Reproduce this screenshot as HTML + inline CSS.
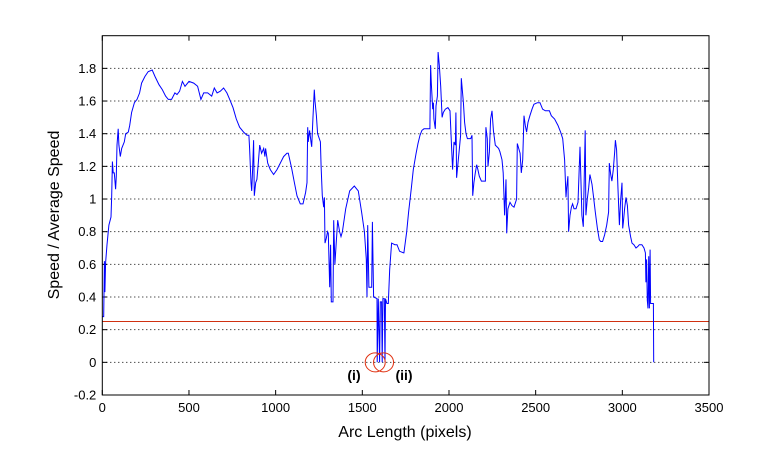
<!DOCTYPE html>
<html><head><meta charset="utf-8"><style>
body{margin:0;background:#fff;}
svg{display:block;font-family:"Liberation Sans",Arial,sans-serif;}
</style></head><body>
<svg id="chart" width="783" height="472" viewBox="0 0 783 472" xmlns="http://www.w3.org/2000/svg">
<rect width="783" height="472" fill="#fff"/>
<g id="grid"></g>
<g id="ticks"></g>
<line id="thresh" stroke="#d03010" stroke-width="1"/>
<path id="series" fill="none" stroke="#0000ff" stroke-width="1"/>
<g id="marks"></g>
<rect x="102.3" y="35.7" width="606.7" height="359.3" fill="none" stroke="#000" stroke-width="1"/>
<text x="405" y="437" font-size="16" text-anchor="middle">Arc Length (pixels)</text>
<text x="0" y="0" font-size="16" text-anchor="middle" transform="translate(59,215) rotate(-90)">Speed / Average Speed</text>
<text x="354" y="380" font-size="14" font-weight="bold" text-anchor="middle">(i)</text>
<text x="404" y="380" font-size="14" font-weight="bold" text-anchor="middle">(ii)</text>
</svg>
<script>
const xTicks=[0,500,1000,1500,2000,2500,3000,3500];
const yTicks=[-0.2,0,0.2,0.4,0.6,0.8,1,1.2,1.4,1.6,1.8];
const yTickLabels=["-0.2","0","0.2","0.4","0.6","0.8","1","1.2","1.4","1.6","1.8"];
const threshold=0.25;
const markedX=[1586,1634];
const arcLength=[0,8,12,15,19,27,38,50,54,58,63,69,77,81,85,92,96,104,112,127,135,150,158,169,185,200,215,227,246,265,288,304,327,346,365,381,400,419,431,446,462,477,500,527,550,569,585,608,631,646,662,681,700,719,735,754,773,792,815,835,846,850,858,862,867,873,877,885,892,900,908,919,931,938,942,954,969,988,1008,1027,1046,1065,1073,1092,1108,1123,1142,1158,1173,1181,1185,1188,1196,1204,1208,1215,1223,1227,1235,1242,1258,1262,1269,1277,1281,1285,1292,1300,1304,1312,1317,1321,1331,1335,1342,1350,1358,1369,1377,1385,1404,1427,1454,1477,1496,1512,1523,1527,1531,1538,1554,1558,1565,1585,1586,1592,1600,1604,1611,1615,1619,1627,1631,1634,1642,1650,1658,1669,1688,1700,1715,1738,1740,1756,1767,1783,1794,1810,1821,1833,1844,1856,1890,1894,1898,1906,1910,1913,1921,1925,1933,1937,1944,1952,1960,1967,1979,1994,2006,2013,2021,2029,2037,2040,2044,2052,2060,2067,2071,2075,2083,2090,2098,2106,2125,2133,2137,2144,2152,2160,2167,2175,2187,2210,2213,2221,2225,2233,2240,2248,2256,2267,2286,2294,2306,2313,2321,2329,2333,2340,2352,2363,2375,2390,2394,2402,2410,2417,2425,2433,2440,2448,2456,2467,2479,2490,2510,2525,2540,2556,2579,2590,2609,2629,2644,2656,2667,2675,2679,2686,2690,2698,2706,2713,2721,2733,2744,2756,2767,2775,2779,2786,2790,2798,2806,2813,2825,2833,2844,2856,2867,2875,2886,2898,2910,2921,2925,2933,2940,2948,2956,2960,2967,2971,2975,2983,2990,2998,3002,3006,3013,3021,3029,3036,3048,3056,3067,3079,3090,3098,3113,3125,3133,3136,3140,3144,3148,3152,3156,3160,3163,3179,3181];
const speed=[0.28,0.28,0.62,0.43,0.61,0.72,0.84,0.89,1.02,1.23,1.16,1.16,1.06,1.14,1.33,1.43,1.33,1.26,1.31,1.35,1.40,1.41,1.45,1.53,1.59,1.61,1.65,1.71,1.75,1.78,1.79,1.75,1.70,1.67,1.63,1.61,1.61,1.65,1.64,1.66,1.72,1.69,1.72,1.71,1.69,1.61,1.65,1.65,1.63,1.68,1.65,1.66,1.68,1.65,1.61,1.56,1.49,1.44,1.41,1.39,1.39,1.31,1.10,1.05,1.18,1.36,1.02,1.10,1.12,1.22,1.33,1.28,1.31,1.26,1.31,1.22,1.18,1.15,1.18,1.22,1.26,1.28,1.28,1.19,1.10,1.02,0.97,0.97,1.04,1.10,1.44,1.35,1.42,1.35,1.32,1.49,1.67,1.60,1.51,1.40,1.35,1.20,1.02,0.95,1.01,0.73,0.76,0.80,0.79,0.46,0.72,0.37,0.37,0.87,0.60,0.74,0.87,0.80,0.77,0.80,0.94,1.05,1.08,1.05,0.92,0.80,0.63,0.40,0.84,0.46,0.46,0.86,0.40,0.39,0,0.39,0,0.37,0.37,0,0.39,0.39,0,0.39,0.36,0.36,0.57,0.73,0.72,0.72,0.68,0.67,0.67,0.80,0.92,1.07,1.18,1.28,1.34,1.39,1.42,1.43,1.43,1.82,1.71,1.55,1.59,1.49,1.43,1.57,1.63,1.90,1.82,1.69,1.50,1.53,1.55,1.56,1.54,1.37,1.18,1.35,1.33,1.53,1.13,1.22,1.31,1.39,1.74,1.69,1.59,1.47,1.40,1.37,1.37,1.39,1.02,1.10,1.16,1.21,1.18,1.14,1.11,1.11,1.44,1.37,1.20,1.29,1.49,1.54,1.42,1.33,1.31,1.29,1.24,1.16,0.90,1.12,0.79,0.94,0.98,0.96,0.95,1.00,1.34,1.31,1.28,1.16,1.24,1.51,1.45,1.41,1.47,1.51,1.55,1.58,1.59,1.59,1.55,1.54,1.54,1.51,1.49,1.45,1.41,1.37,1.24,1.01,1.07,1.14,0.80,0.90,0.95,0.97,0.94,0.94,0.98,1.32,0.90,0.83,1.06,1.42,0.90,1.00,1.07,1.15,1.09,1.02,0.92,0.82,0.75,0.74,0.74,0.78,0.84,0.92,1.22,1.15,1.11,1.18,1.29,1.36,1.30,1.18,1.06,0.84,0.99,1.10,0.82,0.86,0.94,1.01,0.96,0.84,0.77,0.73,0.72,0.70,0.71,0.72,0.72,0.70,0.67,0.49,0.63,0.38,0.33,0.65,0.33,0.69,0.36,0.36,0];

const X0=102.3,X1=709,Y0=395,Y1=35.7,xmin=0,xmax=3500,ymin=-0.2,ymax=2.0;
const sx=v=>X0+(v-xmin)/(xmax-xmin)*(X1-X0);
const sy=v=>Y0-(v-ymin)/(ymax-ymin)*(Y0-Y1);
const NS="http://www.w3.org/2000/svg";
function mk(tag,attrs,parent){const e=document.createElementNS(NS,tag);for(const k in attrs)e.setAttribute(k,attrs[k]);parent.appendChild(e);return e;}
const grid=document.getElementById('grid'),ticks=document.getElementById('ticks');
yTicks.forEach((v,i)=>{
  const y=sy(v);
  if(v>ymin+1e-9){
    const g=mk('line',{x1:X0,x2:X1,y1:y,y2:y,stroke:'#000','stroke-width':1,'stroke-dasharray':'1 3'},grid);
    
    
  }
  const t1=mk('line',{x1:X0,x2:X0+5,y1:y,y2:y,stroke:'#000'},ticks);
  
  
  const t2=mk('line',{x1:X1-5,x2:X1,y1:y,y2:y,stroke:'#000'},ticks);
  
  
  const tx=mk('text',{x:X0-6,y:y+4.5,'font-size':13,'text-anchor':'end'},ticks);
  tx.textContent=yTickLabels[i];
  
  
});
xTicks.forEach(v=>{
  const x=sx(v);
  const t1=mk('line',{x1:x,x2:x,y1:Y0,y2:Y0-5,stroke:'#000'},ticks);
  
  
  const t2=mk('line',{x1:x,x2:x,y1:Y1,y2:Y1+5,stroke:'#000'},ticks);
  
  
  const tx=mk('text',{x:x,y:Y0+17,'font-size':13,'text-anchor':'middle'},ticks);
  tx.textContent=String(v);
  
  
});
const th=document.getElementById('thresh');
th.setAttribute('x1',X0);th.setAttribute('x2',X1);th.setAttribute('y1',sy(threshold));th.setAttribute('y2',sy(threshold));
let d='';
arcLength.forEach((v,i)=>{d+=(i?'L':'M')+sx(v).toFixed(1)+' '+sy(speed[i]).toFixed(1);});
document.getElementById('series').setAttribute('d',d);
const marks=document.getElementById('marks');
markedX.forEach((v,i)=>{
  const c=mk('ellipse',{cx:sx(v)-2,cy:sy(0),rx:10,ry:9.5,fill:'none',stroke:'#e03010','stroke-width':1},marks);
  
  
});
</script>
</body></html>
